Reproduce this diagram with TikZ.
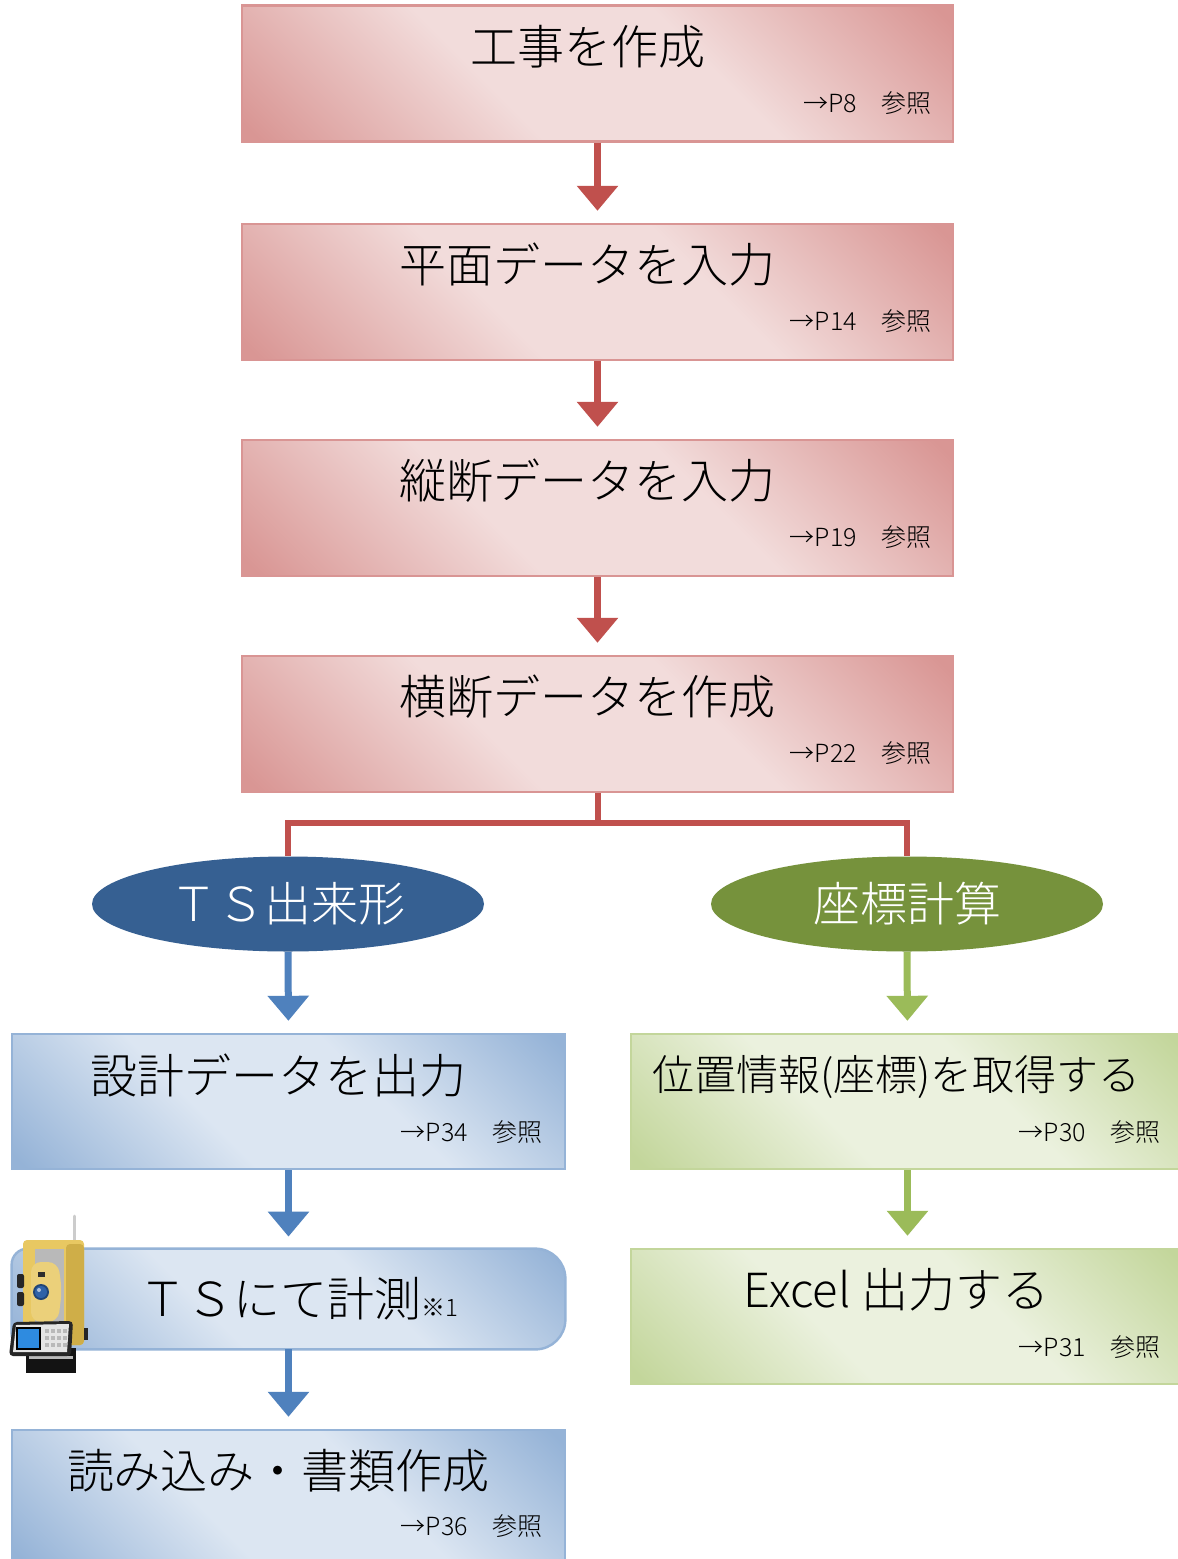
\documentclass[tikz,border=0pt]{standalone}
\usepackage{fontspec}
\setmainfont{Noto Sans CJK JP Light}
\usetikzlibrary{arrows.meta,shapes.geometric,calc}

\definecolor{rdark}{HTML}{D99694}
\definecolor{rlight}{HTML}{F2DCDB}
\definecolor{rline}{HTML}{D99594}
\definecolor{bdark}{HTML}{95B3D7}
\definecolor{blight}{HTML}{DCE6F2}
\definecolor{bline}{HTML}{95B3D7}
\definecolor{gdark}{HTML}{C3D69B}
\definecolor{glight}{HTML}{EBF1DE}
\definecolor{gline}{HTML}{C3D69B}
\definecolor{redarrow}{HTML}{C0504D}
\definecolor{bluearrow}{HTML}{4F81BD}
\definecolor{greenarrow}{HTML}{9BBB59}
\definecolor{tsblue}{HTML}{366092}
\definecolor{zkgreen}{HTML}{76923C}
\definecolor{tsyellow}{HTML}{E8C862}
\definecolor{tsyellowdark}{HTML}{CFAE48}
\definecolor{lensblue}{HTML}{2F62A8}
\definecolor{screenblue}{HTML}{2E8BE0}

% diagonal glow: dark in two opposite corners, light band across the middle
\pgfdeclarehorizontalshading{redglow}{100bp}{color(0bp)=(rdark); color(16bp)=(rdark); color(40bp)=(rlight); color(60bp)=(rlight); color(84bp)=(rdark); color(100bp)=(rdark)}
\pgfdeclarehorizontalshading{blueglow}{100bp}{color(0bp)=(bdark); color(16bp)=(bdark); color(40bp)=(blight); color(60bp)=(blight); color(84bp)=(bdark); color(100bp)=(bdark)}
\pgfdeclarehorizontalshading{greenglow}{100bp}{color(0bp)=(gdark); color(16bp)=(gdark); color(40bp)=(glight); color(60bp)=(glight); color(84bp)=(gdark); color(100bp)=(gdark)}

\tikzset{
  redbox/.style={rectangle, draw=rline, line width=1.2pt, shade, shading=redglow, shading angle=45,
    minimum width=355.5pt, minimum height=68pt, inner sep=0pt},
  bluebox/.style={rectangle, draw=bline, line width=1.2pt, shade, shading=blueglow, shading angle=45,
    minimum width=276.5pt, minimum height=67.5pt, inner sep=0pt},
  greenbox/.style={rectangle, draw=gline, line width=1.2pt, shade, shading=greenglow, shading angle=45,
    minimum width=276.5pt, minimum height=67.5pt, inner sep=0pt},
  title/.style={font=\fontsize{23.5}{28}\selectfont, inner sep=0pt},
  pageref/.style={font=\fontsize{12.5}{15}\selectfont, inner sep=0pt, anchor=east},
  oval/.style={ellipse, minimum width=196pt, minimum height=47.5pt, inner sep=0pt,
    text=white, font=\fontsize{23.5}{28}\selectfont},
  flow/.style={line width=3.5pt, shorten >=6pt, -{Triangle[width=20pt,length=12.5pt]}},
  redflow/.style={flow, draw=redarrow},
  blueflow/.style={flow, draw=bluearrow},
  greenflow/.style={flow, draw=greenarrow},
  branch/.style={draw=redarrow, line width=3pt, line join=miter},
}

\begin{document}
\begin{tikzpicture}[x=0.5pt, y=0.5pt]
\useasboundingbox (0,0) rectangle (1178,-1559);
\clip (0,0) rectangle (1178,-1559);
\fill[white] (0,0) rectangle (1178,-1559);

% ---- common trunk ----
\node[redbox] (b1) at (597.5,-73.5) {};
\node[redbox] (b2) at (597.5,-292) {};
\node[redbox] (b3) at (597.5,-508) {};
\node[redbox] (b4) at (597.5,-724) {};

\node[title] (b1t) at ([xshift=-5pt,yshift=-21pt]b1.north) {工事を作成};
\node[pageref] (b1r) at ([xshift=-11pt,yshift=20pt]b1.south east) {→P8　参照};
\node[title] (b2t) at ([xshift=-5pt,yshift=-21pt]b2.north) {平面データを入力};
\node[pageref] (b2r) at ([xshift=-11pt,yshift=20pt]b2.south east) {→P14　参照};
\node[title] (b3t) at ([xshift=-5pt,yshift=-21pt]b3.north) {縦断データを入力};
\node[pageref] (b3r) at ([xshift=-11pt,yshift=20pt]b3.south east) {→P19　参照};
\node[title] (b4t) at ([xshift=-5pt,yshift=-21pt]b4.north) {横断データを作成};
\node[pageref] (b4r) at ([xshift=-11pt,yshift=20pt]b4.south east) {→P22　参照};

\draw[redflow] (b1.south) -- (b2.north);
\draw[redflow] (b2.south) -- (b3.north);
\draw[redflow] (b3.south) -- (b4.north);

% ---- the two branches ----
\node[oval, fill=tsblue] (ts) at (288,-904) {ＴＳ出来形};
\node[oval, fill=zkgreen] (zk) at (907,-904) {座標計算};

\draw[branch] (b4.south) -- ++(0,-15pt) coordinate (split) -| (ts.north);
\draw[branch] (split) -| (zk.north);

% left branch: TS as-built
\node[bluebox] (l1) at (288.5,-1101.5) {};
\node[title] (l1t) at ([xshift=-5pt,yshift=-21.5pt]l1.north) {設計データを出力};
\node[pageref] (l1r) at ([xshift=-11.5pt,yshift=19pt]l1.south east) {→P34　参照};

\node[minimum width=276.5pt, minimum height=50pt, inner sep=0pt] (l2) at (288.5,-1299) {};
\path[draw=bline, line width=1.2pt, shade, shading=blueglow, shading angle=45]
  (l2.south) [rounded corners=8pt] -| (l2.north west) -- (l2.north)
  [rounded corners=15pt] -| (l2.south east) -- cycle;
\node[title, anchor=center] (l2t) at ([xshift=5pt]l2.center) {ＴＳにて計測{\fontsize{12}{14}\selectfont ※1}};

\node[bluebox] (l3) at (288.5,-1497.5) {};
\node[title] (l3t) at ([xshift=-5pt,yshift=-21pt]l3.north) {読み込み・書類作成};
\node[pageref] (l3r) at ([xshift=-11.5pt,yshift=20pt]l3.south east) {→P36　参照};

\draw[blueflow] (ts.south) -- (l1.north);
\draw[blueflow] (l1.south) -- (l2.north);
\draw[blueflow] (l2.south) -- (l3.north);

% right branch: coordinate calculation
\node[greenbox] (r1) at (907.5,-1101.5) {};
\node[title, font=\fontsize{21}{25}\selectfont] (r1t) at ([xshift=-5.5pt,yshift=-22pt]r1.north) {位置情報(座標)を取得する};
\node[pageref] (r1r) at ([xshift=-12pt,yshift=19pt]r1.south east) {→P30　参照};

\node[greenbox] (r2) at (907.5,-1316.5) {};
\node[title] (r2t) at ([xshift=-5.5pt,yshift=-21pt]r2.north) {Excel 出力する};
\node[pageref] (r2r) at ([xshift=-12pt,yshift=19pt]r2.south east) {→P31　参照};

\draw[greenflow] (zk.south) -- (r1.north);
\draw[greenflow] (r1.south) -- (r2.north);

% ---- total station instrument ----
\draw[line width=1.5pt, gray!40, line cap=round] (74,-1216) -- (74,-1268);
\fill[tsyellow, rounded corners=2pt] (23,-1240) rectangle (84,-1345);
\fill[tsyellowdark, rounded corners=2pt] (66,-1244) rectangle (84,-1345);
\fill[gray!55] (35,-1249) rectangle (64,-1322);
\fill[gray!30!black, rounded corners=1pt] (17,-1274) rectangle (24,-1288);
\fill[gray!30!black, rounded corners=1pt] (17,-1292) rectangle (24,-1306);
\fill[gray!30!black] (84,-1328) rectangle (88,-1340);
\fill[tsyellow!85!white, rounded corners=5pt] (31,-1262) -- (58,-1262) -- (62,-1290) -- (58,-1322) -- (31,-1322) -- cycle;
\fill[gray!35!black] (38,-1272) rectangle (45,-1277);
\fill[lensblue!70!black] (41,-1292) circle (8);
\fill[lensblue] (41,-1292) circle (6);
\fill[lensblue!40!white] (39,-1290) circle (2);
\fill[gray!15!black] (26,-1348) rectangle (76,-1373);
\fill[gray!55] (29,-1356) rectangle (73,-1359);
\fill[gray!30!black, rounded corners=2pt] (9,-1356) -- (13,-1322) -- (73,-1321) -- (71,-1356) -- cycle;
\fill[gray!20] (13,-1352) -- (16,-1325) -- (69,-1324) -- (67,-1352) -- cycle;
\fill[black] (16,-1327) rectangle (41,-1350);
\fill[screenblue] (18,-1329) rectangle (39,-1348);
\foreach \kx in {45,51,57,63} {
  \foreach \ky in {-1329,-1336,-1343} {
    \fill[gray!55] (\kx,\ky) rectangle ++(4,-4);
  }
}
\end{tikzpicture}
\end{document}
